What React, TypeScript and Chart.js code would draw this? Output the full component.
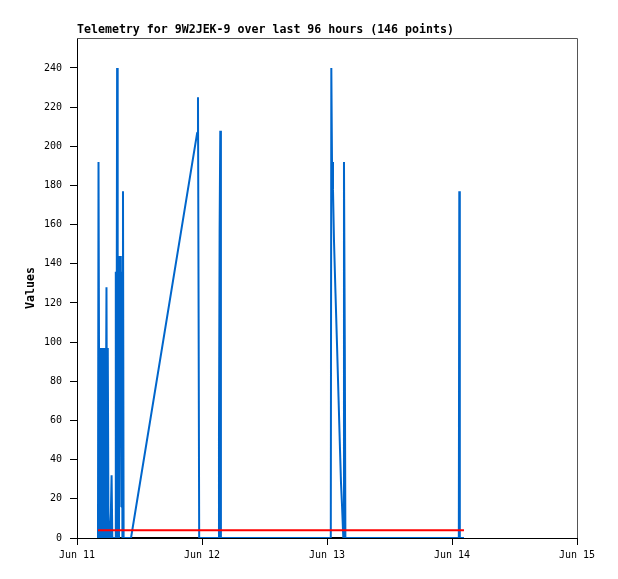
import React, { useEffect, useRef } from "react";
import { Chart, registerables } from "chart.js";

Chart.register(...registerables);

const chartTitle = "Telemetry for 9W2JEK-9 over last 96 hours (146 points)";
const yAxisTitle = "Values";

// x positions: hours since Jun 11 00:00
const xTickLabels = ["Jun 11", "Jun 12", "Jun 13", "Jun 14", "Jun 15"];

const hoursSinceStart = [
  4.03, 4.13, 4.26, 4.36, 4.49, 4.65, 4.78, 4.93, 5.09, 5.22,
  5.34, 5.45, 5.66, 5.8, 5.91, 6.03, 6.18, 6.3, 6.41, 6.64,
  6.78, 7.35, 7.45, 7.56, 7.7, 7.81, 7.95, 8.06, 8.2, 8.31,
  8.41, 8.52, 8.62, 8.72, 8.83, 8.95, 10.37, 23.08, 23.23, 23.35,
  23.46, 27.17, 27.26, 27.38, 27.51, 27.63, 48.73, 48.83, 48.96, 49.15,
  49.34, 49.63, 49.92, 50.21, 50.5, 50.69, 50.88, 51.13, 51.26, 51.42,
  51.53, 73.31, 73.4, 73.5, 74.3,
];

const blueValues = [
  0, 192, 64, 0, 97, 0, 97, 0, 97, 0,
  97, 0, 128, 0, 97, 13, 0, 8, 0, 32,
  0, 0, 136, 0, 240, 0, 144, 0, 144, 56,
  144, 16, 136, 0, 177, 0, 0, 207, 225, 112,
  0, 0, 52, 156, 208, 0, 0, 240, 192, 178,
  152, 125, 99, 72, 45, 28, 17, 0, 192, 96,
  0, 0, 177, 0, 0,
];

const redValues = [
  4, 4, 4, 4, 4, 4, 4, 4, 4, 4,
  4, 4, 4, 4, 4, 4, 4, 4, 4, 4,
  4, 4, 4, 4, 4, 4, 4, 4, 4, 4,
  4, 4, 4, 4, 4, 4, 4, 4, 4, 4,
  4, 4, 4, 4, 4, 4, 4, 4, 4, 4,
  4, 4, 4, 4, 4, 4, 4, 4, 4, 4,
  4, 4, 4, 4, 4,
];

const blackValues = [
  0, 0, 0, 0, 0, 0, 0, 0, 0, 0,
  0, 0, 0, 0, 0, 0, 0, 0, 0, 0,
  0, 0, 0, 0, 0, 0, 0, 0, 0, 0,
  0, 0, 0, 0, 0, 0, 0, 0, 0, 0,
  0, 0, 0, 0, 0, 0, 0, 0, 0, 0,
  0, 0, 0, 0, 0, 0, 0, 0, 0, 0,
  0, 0, 0, 0, 0,
];

const toPoints = (vals: number[]) =>
  hoursSinceStart.map((h, i) => ({ x: h, y: vals[i] }));

const framePlugin = {
  id: "frame",
  beforeDatasetsDraw(chart: any) {
    const { ctx, chartArea } = chart;
    const l = Math.round(chartArea.left);
    const r = Math.round(chartArea.right);
    const t = Math.round(chartArea.top);
    const b = Math.round(chartArea.bottom);
    ctx.save();
    ctx.strokeStyle = "#555555";
    ctx.lineWidth = 1;
    ctx.beginPath();
    ctx.moveTo(l, t + 0.5);
    ctx.lineTo(r + 0.5, t + 0.5);
    ctx.lineTo(r + 0.5, b);
    ctx.stroke();
    ctx.restore();
  },
};

export default function App() {
  const ref = useRef<HTMLCanvasElement | null>(null);

  useEffect(() => {
    if (!ref.current) return;
    const chart = new Chart(ref.current, {
      type: "line",
      data: {
        datasets: [
          {
            data: toPoints(redValues),
            borderColor: "#ff0000",
            borderWidth: 2,
            pointRadius: 0,
            tension: 0,
          },
          {
            data: toPoints(blueValues),
            borderColor: "#0066cc",
            borderWidth: 2,
            pointRadius: 0,
            tension: 0,
            borderJoinStyle: "bevel",
          },
          {
            data: toPoints(blackValues),
            borderColor: "#000000",
            borderWidth: 2,
            pointRadius: 0,
            tension: 0,
          },
        ],
      },
      options: {
        animation: false,
        responsive: false,
        devicePixelRatio: 1,
        layout: { padding: { top: 0, left: 0, right: 41, bottom: 0 } },
        plugins: {
          legend: { display: false },
          tooltip: { enabled: false },
          title: {
            display: true,
            text: chartTitle,
            align: "start",
            fullSize: false,
            color: "#000",
            font: { family: "'DejaVu Sans Mono', monospace", size: 11.6, weight: "bold", lineHeight: 1.2 },
            padding: { top: 23.1, bottom: 1 },
          },
        },
        scales: {
          x: {
            type: "linear",
            min: 0,
            max: 96,
            afterFit: (s: any) => {
              s.height = 41;
            },
            afterBuildTicks: (s: any) => {
              s.ticks = [0, 24, 48, 72, 96].map((v) => ({ value: v }));
            },
            ticks: {
              stepSize: 24,
              autoSkip: false,
              maxRotation: 0,
              padding: 4,
              color: "#000",
              font: { family: "'DejaVu Sans Mono', monospace", size: 10 },
              callback: (v: any) => xTickLabels[Math.round(Number(v) / 24)] ?? "",
            },
            grid: { drawOnChartArea: false, drawTicks: true, tickLength: 7, color: "#000" },
            border: { display: true, color: "#000", width: 1 },
          },
          y: {
            type: "linear",
            min: 0,
            max: 255.3,
            afterFit: (s: any) => {
              s.width = 77;
            },
            afterBuildTicks: (s: any) => {
              s.ticks = s.ticks.filter((t: any) => Math.abs(t.value % 20) < 1e-6);
            },
            ticks: {
              stepSize: 20,
              padding: 8,
              color: "#000",
              font: { family: "'DejaVu Sans Mono', monospace", size: 10 },
            },
            grid: { drawOnChartArea: false, drawTicks: true, tickLength: 7, color: "#000" },
            border: { display: true, color: "#000", width: 1 },
            title: {
              display: true,
              text: yAxisTitle,
              color: "#000",
              font: { family: "'DejaVu Sans Mono', monospace", size: 11.6, weight: "bold", lineHeight: 1.2 },
              padding: { top: 24.0, bottom: 0 },
            },
          },
        },
      },
      plugins: [framePlugin],
    });
    return () => chart.destroy();
  }, []);

  return (
    <div style={{ position: "absolute", left: 0, top: 0, width: 618, height: 579, background: "#fff" }}>
      <canvas ref={ref} width={618} height={579} style={{ width: 618, height: 579, display: "block" }} />
    </div>
  );
}
